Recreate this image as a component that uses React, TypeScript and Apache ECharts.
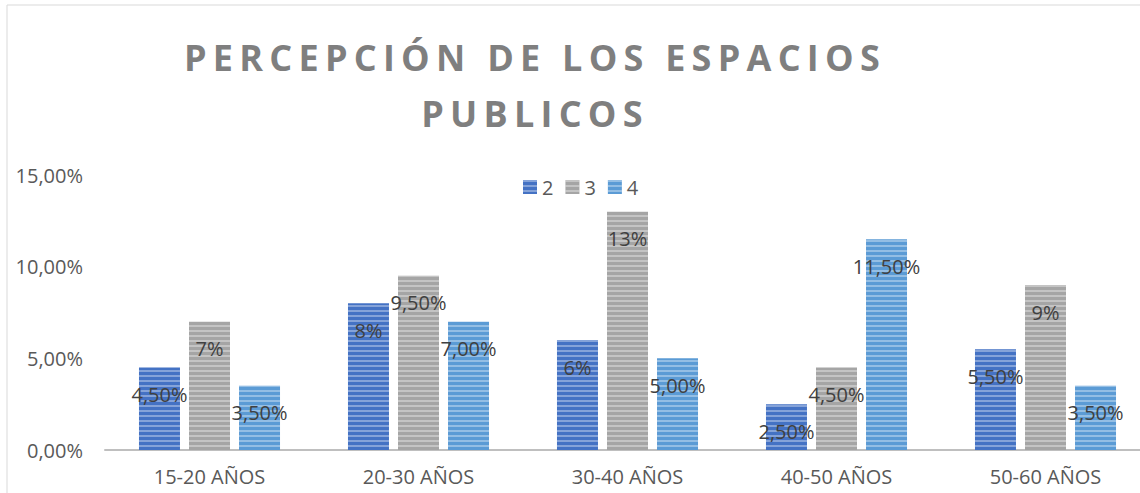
import React, { useEffect, useRef } from "react";
import * as echarts from "echarts";

const categories = ["15-20 AÑOS", "20-30 AÑOS", "30-40 AÑOS", "40-50 AÑOS", "50-60 AÑOS"];
const seriesNames = ["2", "3", "4"];
const values2 = [4.5, 8, 6, 2.5, 5.5];
const values3 = [7, 9.5, 13, 4.5, 9];
const values4 = [3.5, 7, 5, 11.5, 3.5];
const labels2 = ["4,50%", "8%", "6%", "2,50%", "5,50%"];
const labels3 = ["7%", "9,50%", "13%", "4,50%", "9%"];
const labels4 = ["3,50%", "7,00%", "5,00%", "11,50%", "3,50%"];
const yTickLabels = ["0,00%", "5,00%", "10,00%", "15,00%"];
const titleLines = ["PERCEPCIÓN DE LOS ESPACIOS", "PUBLICOS"];

const colors = ["#4472C4", "#A5A5A5", "#5B9BD5"];
const FONT = "'Open Sans', sans-serif";

export default function App() {
  const ref = useRef<HTMLDivElement>(null);
  useEffect(() => {
    document.body.style.margin = "0";
    document.body.style.overflow = "hidden";
    document.documentElement.style.overflow = "hidden";
    if (!ref.current) return;
    const chart = echarts.init(ref.current, null, { renderer: "svg" });
    const mk = (name: string, vals: number[], labs: string[], i: number) => ({
      name,
      type: "bar",
      data: vals,
      barWidth: 41,
      barGap: "22%",
      itemStyle: {
        color: colors[i],
        decal: {
          symbol: "rect",
          symbolSize: 1,
          dashArrayX: [[1, 0]],
          dashArrayY: [2, 3],
          rotation: 0,
          color: "rgba(255,255,255,0.35)",
        },
      },
      label: {
        show: true,
        position: "insideTop",
        distance: 5,
        offset: [0, 12],
        color: "#404040",
        fontFamily: FONT,
        fontSize: 20,
        formatter: (p: any) => labs[p.dataIndex],
      },
    });
    chart.setOption({
      animation: false,
      aria: { enabled: false, decal: { show: false } },
      title: {
        text: titleLines.join("\n"),
        left: 530,
        textAlign: "center",
        top: 24,
        textStyle: {
          fontFamily: FONT,
          fontWeight: "bold",
          fontSize: 36,
          lineHeight: 56,
          color: "#7F7F7F",
        },
      },
      legend: {
        data: seriesNames,
        left: 518,
        top: 172,
        itemWidth: 14,
        itemHeight: 14,
        itemGap: 12,
        icon: "rect",
        textStyle: { fontFamily: FONT, fontSize: 20, color: "#595959", padding: [0, 0, 0, 0] },
      },
      graphic: [
        {
          type: "rect",
          shape: { x: 7, y: 5, width: 1180, height: 520 },
          style: { fill: "none", stroke: "#D9D9D9", lineWidth: 1 },
          silent: true,
        },
      ],
      grid: { left: 105, top: 175, width: 1045, bottom: 43, containLabel: false },
      xAxis: {
        type: "category",
        data: categories,
        axisLine: { lineStyle: { color: "#BFBFBF", width: 2 } },
        axisTick: { show: false },
        axisLabel: { fontFamily: FONT, fontSize: 20, color: "#595959", margin: 16 },
      },
      yAxis: {
        type: "value",
        min: 0,
        max: 15,
        interval: 5,
        splitLine: { show: false },
        axisLine: { show: false },
        axisTick: { show: false },
        axisLabel: {
          fontFamily: FONT,
          fontSize: 20,
          color: "#595959",
          margin: 22,
          formatter: (v: number) => yTickLabels[Math.round(v / 5)],
        },
      },
      series: [
        mk(seriesNames[0], values2, labels2, 0),
        mk(seriesNames[1], values3, labels3, 1),
        mk(seriesNames[2], values4, labels4, 2),
      ],
    });
    // widen the title letter spacing to match the reference
    const texts = ref.current.querySelectorAll("text");
    const titleEls: SVGTextElement[] = [];
    texts.forEach((t: any) => {
      if (titleLines.includes((t.textContent || "").trim())) titleEls.push(t);
    });
    if (titleEls.length) {
      const first = titleEls.find((t) => (t.textContent || "").trim() === titleLines[0]) || titleEls[0];
      const len = first.getComputedTextLength();
      const n = titleLines[0].length;
      const ls = Math.max(0, (702 - len) / n);
      titleEls.forEach((t) => {
        t.style.letterSpacing = ls + "px";
      });
    }
    return () => chart.dispose();
  }, []);
  return <div ref={ref} style={{ width: 1160, height: 493 }} />;
}
